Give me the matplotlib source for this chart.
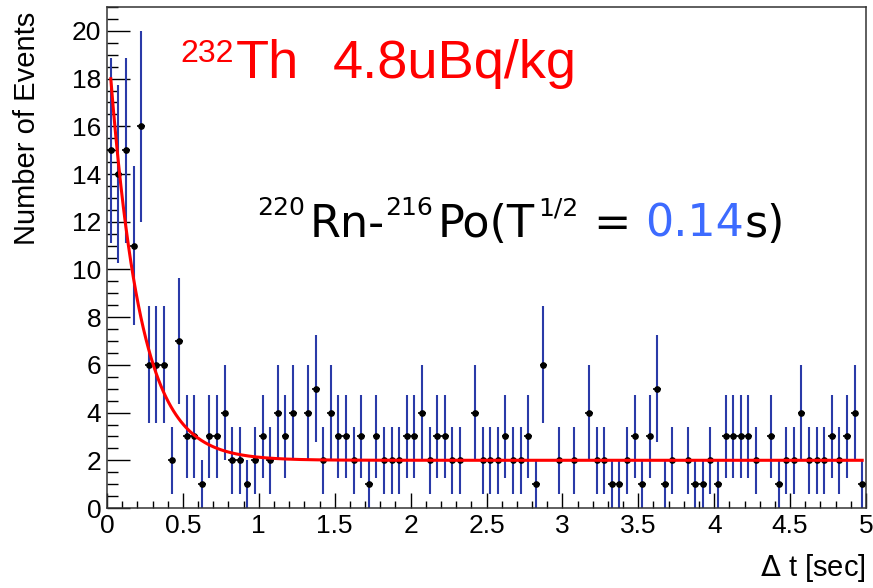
import numpy as np
import matplotlib
matplotlib.use("Agg")
import matplotlib.pyplot as plt
from matplotlib.ticker import MultipleLocator

plt.rcParams['font.family'] = ['Liberation Sans', 'DejaVu Sans']

# histogram: 100 bins of 0.05 s between 0 and 5 s
bin_edges = np.linspace(0, 5, 101)
counts = [15, 14, 15, 11, 16, 6, 6, 6, 2, 7, 3, 3, 1, 3, 3, 4, 2, 2, 1, 2, 3, 2, 4, 3, 4,
          0, 4, 5, 2, 4, 3, 3, 2, 3, 1, 3, 2, 2, 2, 3, 3, 4, 2, 3, 3, 2, 2, 0, 4,
          2, 2, 2, 3, 2, 2, 3, 1, 6, 0, 2, 0, 2, 0, 4, 2, 2, 1, 1, 2, 3, 1, 3, 5,
          1, 2, 0, 2, 1, 1, 2, 1, 3, 3, 3, 3, 2, 0, 3, 1, 2, 2, 4, 2, 2, 2, 3, 2, 3, 4, 1]

# fit parameters (exp decay + flat background)
t_half = 0.14
amp = 18.1
const = 2.0

centers = 0.5 * (bin_edges[:-1] + bin_edges[1:])
width = bin_edges[1] - bin_edges[0]
counts = np.array(counts, dtype=float)
keep = counts > 0
xc = centers[keep]
yc = counts[keep]
err = np.sqrt(yc)

fig = plt.figure(figsize=(8.73, 5.88), dpi=100)
ax = fig.add_axes([107/873, 1-508/588, (866-107)/873, (508-7)/588])

# vertical error bars (blue), horizontal bin width (black)
ax.vlines(xc, yc - err, yc + err, color='#2a3aa8', lw=1.5, zorder=2)
ax.hlines(yc, xc - width/2, xc + width/2, color='black', lw=1.2, zorder=3)
ax.plot(xc, yc, 'o', color='black', ms=3.8, zorder=4)

tt = np.linspace(centers[0], centers[-1], 600)
ax.plot(tt, amp*np.exp(-np.log(2)*tt/t_half) + const, color='red', lw=2.2, zorder=5)

ax.set_xlim(0, 5)
ax.set_ylim(0, 21)
ax.xaxis.set_major_locator(MultipleLocator(0.5))
ax.xaxis.set_minor_locator(MultipleLocator(0.1))
ax.yaxis.set_major_locator(MultipleLocator(2))
ax.yaxis.set_minor_locator(MultipleLocator(0.5))
ax.set_xticks(np.arange(0, 5.01, 0.5))
ax.set_xticklabels(['0', '0.5', '1', '1.5', '2', '2.5', '3', '3.5', '4', '4.5', '5'])
ax.tick_params(axis='x', which='major', direction='in', length=10.8, width=1, labelsize=19, pad=4)
ax.tick_params(axis='x', which='minor', direction='in', length=5.4, width=1)
ax.tick_params(axis='y', which='major', direction='in', length=16.4, width=1, labelsize=19, pad=4)
ax.tick_params(axis='y', which='minor', direction='in', length=8.2, width=1)
for s in ax.spines.values():
    s.set_linewidth(1.1)
    s.set_color('#333333')

fig.text(866/873, 1-568/588, r'$\Delta$ t [sec]', ha='right', va='center', fontsize=21)
fig.text(27/873, 1-12/588, 'Number of Events', rotation=90, ha='center', va='top', fontsize=21)

renderer = fig.canvas.get_renderer()


def rich(x0, base, pieces, family):
    # pieces: (text, fontsize, color, raise_px, gap_px)
    x = x0
    for s, size, col, rise, gap in pieces:
        x += gap
        t = fig.text(x/873, (588 - base + rise)/588, s, fontsize=size, color=col,
                     ha='left', va='baseline', family=family)
        bb = t.get_window_extent(renderer)
        x = bb.x1


rich(180, 78, [('232', 23, 'red', 16, 0),
               ('Th', 39, 'red', 0, 2),
               ('4.8uBq/kg', 39, 'red', 0, 34)], ['Liberation Sans'])

rich(257, 237, [('220', 18, 'black', 22, 0),
                ('Rn-', 32, 'black', 0, 5),
                ('216', 18, 'black', 22, 0),
                ('Po(T', 32, 'black', 0, 5),
                ('1/2', 18, 'black', 22, 3),
                ('=', 32, 'black', 0, 15),
                ('0.14', 32, '#3d6bff', 0, 15),
                ('s)', 32, 'black', 0, 0)], ['DejaVu Sans'])

fig.savefig('out.png', dpi=100)
